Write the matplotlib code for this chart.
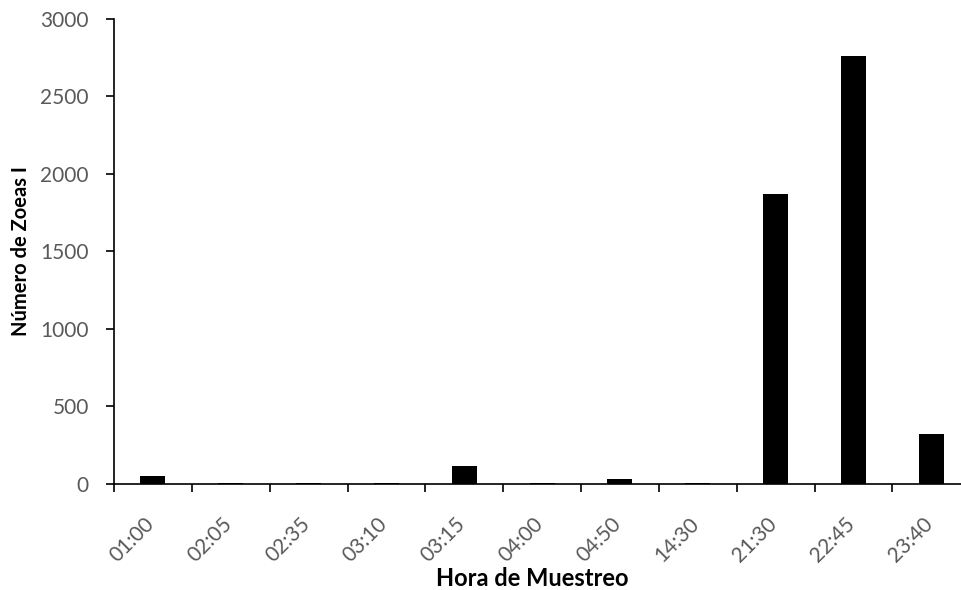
import matplotlib.pyplot as plt
from matplotlib.transforms import ScaledTranslation

# Datos
horas = ['01:00', '02:05', '02:35', '03:10', '03:15', '04:00', '04:50',
         '14:30', '21:30', '22:45', '23:40']
zoeas = [50, 2, 1, 1, 114, 3, 32, 1, 1870, 2762, 317]

plt.rcParams['font.family'] = ['Lato', 'DejaVu Sans']

fig = plt.figure(figsize=(9.62, 5.9), dpi=100)
# el eje llega hasta fuera de la imagen, como en el original
ax = fig.add_axes([0.1185, 0.1805, 0.89, 0.7875])

x = range(len(horas))
ax.bar(x, zoeas, width=0.32, color='black')

ax.set_xlim(-0.5, len(horas) - 0.5)
ax.set_ylim(0, 3000)
ax.set_yticks(range(0, 3001, 500))

# marcas entre categorias, etiquetas en el centro
ax.set_xticks([i - 0.5 for i in range(len(horas) + 1)])
ax.set_xticklabels([''] * (len(horas) + 1))
ax.set_xticks(list(x), minor=True)
ax.set_xticklabels(horas, minor=True, rotation=45, color='#595959', fontsize=15,
                   ha='right', va='center', rotation_mode='anchor')
ax.tick_params(axis='x', which='minor', length=0, pad=27)
ax.tick_params(axis='x', which='major', length=6, width=1.2, direction='out')
ax.tick_params(axis='y', length=6, width=1.2, direction='out', pad=12,
               labelsize=15, labelcolor='#595959')

off = ScaledTranslation(-2 / 100, 0, fig.dpi_scale_trans)
for lbl in ax.get_xticklabels(minor=True):
    lbl.set_transform(lbl.get_transform() + off)

ax.spines['top'].set_visible(False)
ax.spines['right'].set_visible(False)
ax.spines['left'].set_linewidth(1.2)
ax.spines['bottom'].set_linewidth(1.2)

ax.set_xlabel('Hora de Muestreo', fontweight='bold', fontsize=17)
ax.set_ylabel('Número de Zoeas I', fontweight='bold', fontsize=14.5)
ax.xaxis.set_label_coords(0.488, -0.18)
ax.yaxis.set_label_coords(-0.097, 0.5)

plt.savefig('out.png')
